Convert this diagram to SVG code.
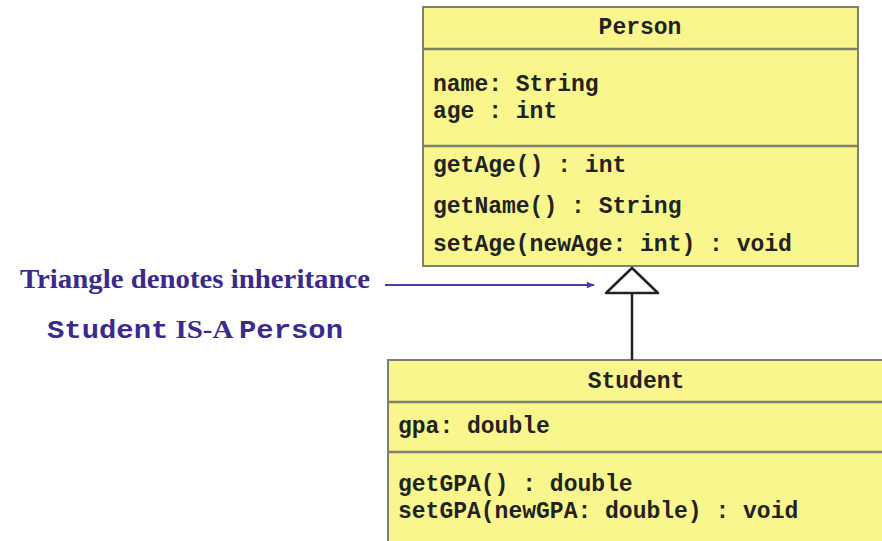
<svg xmlns="http://www.w3.org/2000/svg" width="882" height="541" viewBox="0 0 882 541">
<style>
.box{fill:#f8f68c;stroke:#7f7f70;stroke-width:2}
.div{stroke:#7f7f70;stroke-width:2.5}
.code{font-family:"Liberation Mono","Courier New",monospace;font-weight:bold;font-size:23px;fill:#222}
.note{font-family:"Liberation Serif","Times New Roman",serif;font-weight:bold;fill:#3b2a8c}
</style>
<defs>
<marker id="ah" viewBox="0 0 10 10" refX="9" refY="5" markerWidth="9" markerHeight="8" markerUnits="userSpaceOnUse" orient="auto">
<path d="M0,1 L10,5 L0,9 z" fill="#4a3ca0"/>
</marker>
</defs>
<rect width="882" height="541" fill="#ffffff"/>
<g id="person">
<rect class="box" x="423" y="7" width="435" height="259"/>
<line class="div" x1="423" y1="49" x2="858" y2="49"/>
<line class="div" x1="423" y1="146" x2="858" y2="146"/>
<text class="code" x="640" y="34" text-anchor="middle">Person</text>
<text class="code" x="433" y="91">name: String</text>
<text class="code" x="433" y="118">age : int</text>
<text class="code" x="433" y="172">getAge() : int</text>
<text class="code" x="433" y="213">getName() : String</text>
<text class="code" x="433" y="251">setAge(newAge: int) : void</text>
</g>
<g id="student">
<rect class="box" x="388" y="360" width="500" height="190"/>
<line class="div" x1="388" y1="402" x2="882" y2="402"/>
<line class="div" x1="388" y1="452" x2="882" y2="452"/>
<text class="code" x="636" y="388" text-anchor="middle">Student</text>
<text class="code" x="398" y="433">gpa: double</text>
<text class="code" x="398" y="491">getGPA() : double</text>
<text class="code" x="398" y="518">setGPA(newGPA: double) : void</text>
</g>
<g id="label">
<text class="note" x="20" y="288" font-size="27" textLength="350" lengthAdjust="spacingAndGlyphs">Triangle denotes inheritance</text>
<text class="note" x="47" y="338" font-size="26" textLength="296" lengthAdjust="spacingAndGlyphs"><tspan font-family="Liberation Mono,Courier New,monospace">Student</tspan> IS-A <tspan font-family="Liberation Mono,Courier New,monospace">Person</tspan></text>
</g>
<g id="connectors">
<line x1="632" y1="293" x2="632" y2="360" stroke="#222" stroke-width="2.5"/>
<polygon points="632,268 606,293 658,293" fill="#ffffff" stroke="#222" stroke-width="2.5" stroke-linejoin="round"/>
<line x1="385" y1="285" x2="594" y2="285" stroke="#4a3ca0" stroke-width="2.2" marker-end="url(#ah)"/>
</g>
</svg>
